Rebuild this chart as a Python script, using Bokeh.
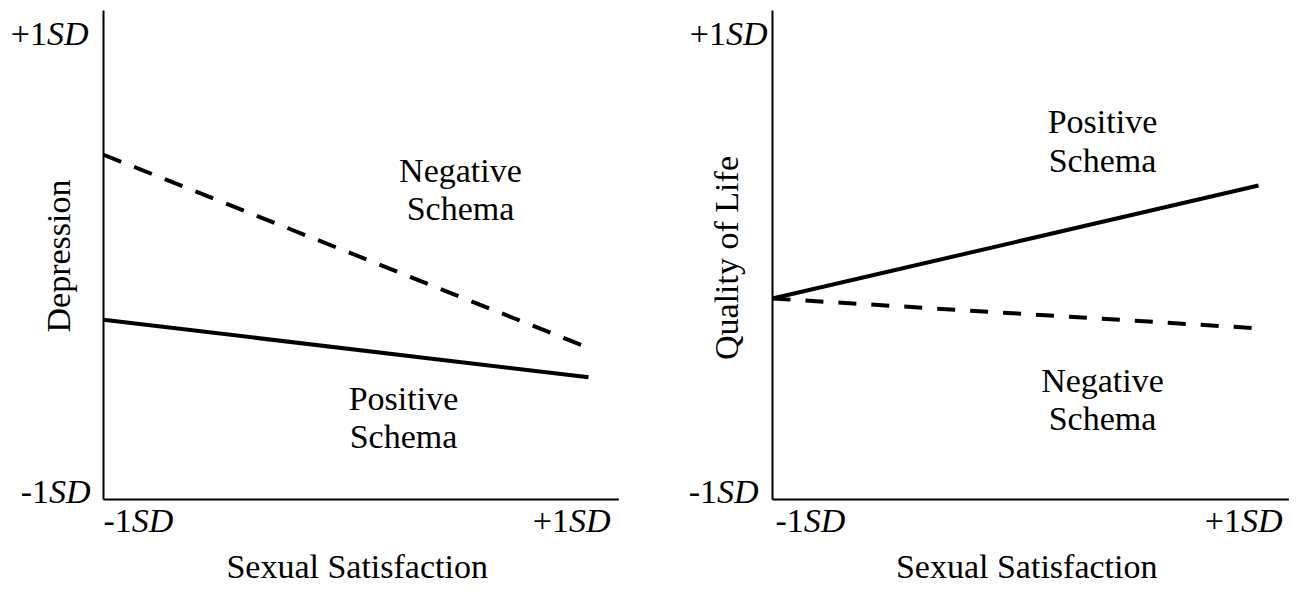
import math
from bokeh.plotting import figure
from bokeh.layouts import row
from bokeh.models import Label, Range1d
from bokeh.embed import file_html
from bokeh.resources import INLINE

# ---- data (standardized units, -1 SD .. +1 SD) ----
x_levels = [-1, 1]
x_title = "Sexual Satisfaction"

dep_title = "Depression"
dep_negative = [0.41, -0.38]     # dashed
dep_positive = [-0.265, -0.50]   # solid

qol_title = "Quality of Life"
qol_positive = [-0.178, 0.284]   # solid
qol_negative = [-0.178, -0.30]   # dashed

low_num, high_num, sd_txt = "-1", "+1", "SD"

# ---- styling / layout constants ----
FONT = "Liberation Serif"
FS = 34
FSS = f"{FS}px"
EM = {"-1": 0.833, "+1": 1.064, "SD": 1.222}
FIX = 12          # baseline correction for Label rendering
AX_END = 1.125    # x-axis line extends past +1 SD
Y_LO, Y_HI = -1, 1


def add_text(p, txt, x, y, dx=0, dy=0, align="center", style="normal", angle=0):
    if angle:
        dx -= FIX
    else:
        dy += FIX
    p.add_layout(Label(x=x, y=y, x_offset=dx, y_offset=dy, text=txt, angle=angle,
                       text_font=FONT, text_font_size=FSS, text_font_style=style,
                       text_align=align, text_baseline="alphabetic",
                       text_color="black"))


def sd_label(p, num, x, y, dx, dy, align):
    if align == "right":
        add_text(p, sd_txt, x, y, dx, dy, "right", "italic")
        add_text(p, num, x, y, dx - EM["SD"] * FS, dy, "right")
    else:
        add_text(p, num, x, y, dx, dy, "left")
        add_text(p, sd_txt, x, y, dx + EM[num] * FS, dy, "left", "italic")


def make_fig(width, left_px, ppu_x, ytitle, solid, dashed, dash,
             ylab_hi_dx, ylab_lo_dx, xlab_dx0, xlab_dx1, ytitle_dx, ytitle_dy):
    height = 587
    ppu_y = 244.5
    top_px, bottom_px = 10, 499
    xr = Range1d(-1 - left_px / ppu_x, -1 + (width - left_px) / ppu_x)
    yr = Range1d(Y_LO - (height - bottom_px) / ppu_y, Y_HI + top_px / ppu_y)
    p = figure(frame_width=width, frame_height=height, min_border=0,
               x_range=xr, y_range=yr,
               output_backend="svg", toolbar_location=None,
               background_fill_color="white", border_fill_color="white")
    p.outline_line_color = None
    p.grid.visible = False
    p.axis.visible = False

    # axis lines
    p.segment(x0=[x_levels[0], x_levels[0]], y0=[Y_LO, Y_LO],
              x1=[x_levels[0], AX_END], y1=[Y_HI, Y_LO],
              line_color="black", line_width=2)

    p.line(x_levels, solid, line_color="black", line_width=4)
    p.line(x_levels, dashed, line_color="black", line_width=4, line_dash=dash)

    # tick-style labels
    sd_label(p, high_num, x_levels[0], Y_HI, ylab_hi_dx, -35, "right")
    sd_label(p, low_num, x_levels[0], Y_LO, ylab_lo_dx, -4, "right")
    sd_label(p, low_num, x_levels[0], Y_LO, xlab_dx0, -33, "left")
    sd_label(p, high_num, x_levels[1], Y_LO, xlab_dx1, -33, "right")

    # axis titles
    add_text(p, x_title, (x_levels[0] + AX_END) / 2, Y_LO, -4, -79, "center")
    add_text(p, ytitle, x_levels[0], (Y_LO + Y_HI) / 2, ytitle_dx, ytitle_dy,
             "center", angle=math.pi / 2)
    return p


left = make_fig(668, 103, 242.5, dep_title, dep_positive, dep_negative, "19 14",
                -15, -13, 0, 22, -33, -1)
add_text(left, "Negative", 0.472, 0.297)
add_text(left, "Schema", 0.472, 0.141)
add_text(left, "Positive", 0.237, -0.636)
add_text(left, "Schema", 0.237, -0.791)

right = make_fig(630, 104, 243.0, qol_title, qol_positive, qol_negative, "18 15",
                 -5, -14, 3, 24, -34, -3)
add_text(right, "Positive", 0.358, 0.497)
add_text(right, "Schema", 0.358, 0.337)
add_text(right, "Negative", 0.358, -0.562)
add_text(right, "Schema", 0.358, -0.718)

layout = row(left, right)
open("out.html", "w").write(file_html(layout, INLINE))
